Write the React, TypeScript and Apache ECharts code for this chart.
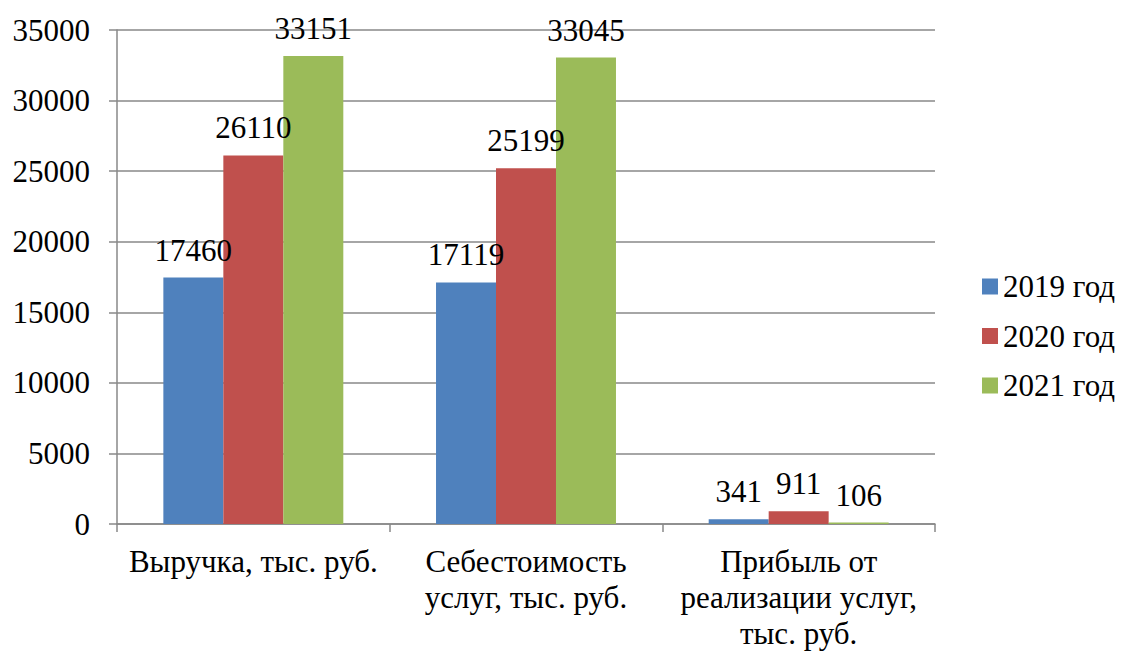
import React, { useEffect, useRef } from "react";
import * as echarts from "echarts";

const categories = [
  "Выручка, тыс. руб.",
  "Себестоимость\nуслуг, тыс. руб.",
  "Прибыль от\nреализации услуг,\nтыс. руб.",
];
const seriesNames = ["2019 год", "2020 год", "2021 год"];
const values2019 = [17460, 17119, 341];
const values2020 = [26110, 25199, 911];
const values2021 = [33151, 33045, 106];
const colors = ["#4F81BD", "#C0504D", "#9BBB59"];
const yMin = 0;
const yMax = 35000;
const yInterval = 5000;

const FONT = "Liberation Serif";
const FS = 31;

export default function App() {
  const ref = useRef<HTMLDivElement>(null);
  useEffect(() => {
    document.body.style.margin = "0";
    const chart = echarts.init(ref.current!, null, { renderer: "svg" });
    const data = [values2019, values2020, values2021];
    chart.setOption({
      animation: false,
      textStyle: { fontFamily: FONT, color: "#000" },
      grid: { left: 117, right: 186, top: 30, bottom: 129, containLabel: false },
      legend: {
        orient: "vertical",
        left: 977,
        top: 266,
        itemWidth: 16,
        itemHeight: 16,
        itemGap: 18.5,
        icon: "rect",
        textStyle: { fontFamily: FONT, fontSize: FS, color: "#000" },
        data: seriesNames,
      },
      xAxis: {
        type: "category",
        data: categories,
        axisLine: { lineStyle: { color: "#888888", width: 1.5 } },
        axisTick: { show: true, length: 8, alignWithLabel: false, lineStyle: { color: "#888888", width: 1.5 } },
        axisLabel: {
          fontFamily: FONT,
          fontSize: FS,
          color: "#000",
          lineHeight: 36,
          margin: 19,
          interval: 0,
        },
      },
      yAxis: {
        type: "value",
        min: yMin,
        max: yMax,
        interval: yInterval,
        axisLine: { show: true, lineStyle: { color: "#888888", width: 1.5 } },
        axisTick: { show: true, length: 8, lineStyle: { color: "#888888", width: 1.5 } },
        splitLine: { lineStyle: { color: "#888888", width: 1.5 } },
        axisLabel: {
          fontFamily: FONT,
          fontSize: FS,
          color: "#000",
          margin: 27,
          formatter: (v: number) => String(v),
        },
      },
      series: seriesNames.map((name, i) => ({
        name,
        type: "bar",
        data: data[i],
        barGap: "0%",
        barCategoryGap: "34%",
        itemStyle: { color: colors[i] },
        label: {
          show: true,
          position: "top",
          distance: 12,
          fontFamily: FONT,
          fontSize: FS,
          color: "#000",
        },
      })),
    });
    return () => chart.dispose();
  }, []);
  return <div ref={ref} style={{ width: 1121, height: 653 }} />;
}
